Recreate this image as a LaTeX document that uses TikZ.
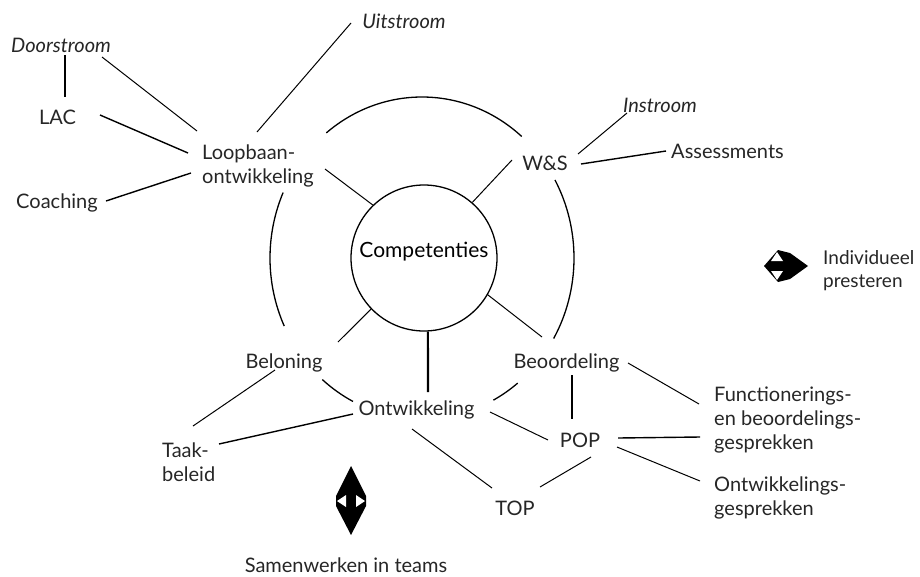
\documentclass[tikz,border=0pt]{standalone}
\usepackage{fontspec}
\setmainfont{Lato}
\begin{document}
\begin{tikzpicture}[x=1pt,y=-1pt,
  lbl/.style={font=\fontsize{20}{24}\selectfont, inner sep=0pt, text=black!85},
  ital/.style={lbl, font=\fontsize{20}{24}\selectfont\itshape, anchor=base},
  ml/.style={lbl, align=left, anchor=north west},
  sl/.style={lbl, anchor=base},
  thinline/.style={line width=1pt},
  medline/.style={line width=1.4pt},
  heavy/.style={line width=2.2pt},
  ringline/.style={line width=1.3pt}
]
\fill[white] (0,0) rectangle (920,576);
\useasboundingbox (0,0) rectangle (920,576);

% nodes
\node[ital] (door) at (61,52) {Doorstroom};
\node[ital] (uit) at (404,28) {Uitstroom};
\node[sl] (lac) at (57.5,124) {LAC};
\node[ml] (lb) at (202,145) {Loopbaan-\\ontwikkeling};
\node[sl] (coach) at (57,208) {Coaching};
\node[ital] (in) at (660,112) {Instroom};
\node[sl] (ass) at (727.5,158) {Assessments};
\node[sl] (ws) at (545,170) {W\&S};
\node[circle, draw, line width=1.3pt, minimum size=146pt, inner sep=0pt,
      font=\fontsize{21}{24}\selectfont, text height=15pt, text depth=17pt] (comp) at (424,258) {Competenties};
\node[sl] (bel) at (284,368) {Beloning};
\node[sl] (beo) at (566.5,368) {Beoordeling};
\node[sl] (ont) at (416.5,415) {Ontwikkeling};
\node[ml] (taak) at (162,443) {Taak-\\beleid};
\node[sl] (pop) at (580,447) {POP};
\node[sl] (top) at (515,515) {TOP};
\node[ml] (func) at (714,387) {Functionerings-\\en beoordelings-\\gesprekken};
\node[ml] (ontg) at (714,477) {Ontwikkelings-\\gesprekken};
\node[ml, font=\fontsize{19}{23}\selectfont] (ind) at (823,250) {Individueel\\presteren};
\node[sl] (sam) at (346,572) {Samenwerken in teams};

% ring around the centre
\coordinate (ring) at (422,258);
\draw[ringline] ([shift={(49:152pt and 161pt)}]ring) arc[start angle=49, end angle=129, x radius=152pt, y radius=161pt];
\draw[ringline] ([shift={(156:152pt and 161pt)}]ring) arc[start angle=156, end angle=205, x radius=152pt, y radius=161pt];
\draw[ringline] ([shift={(-30:152pt and 161pt)}]ring) arc[start angle=-30, end angle=29, x radius=152pt, y radius=161pt];
\draw[ringline] ([shift={(229:152pt and 161pt)}]ring) arc[start angle=229, end angle=243, x radius=152pt, y radius=161pt];
\draw[ringline] ([shift={(298:152pt and 161pt)}]ring) arc[start angle=298, end angle=309, x radius=152pt, y radius=161pt];

% connectors
\draw[heavy] ([shift={(4,3)}]door.base) -- ([shift={(7.5,-27)}]lac.base);
\draw[thinline] ([shift={(41,5)}]door.base) -- ([shift={(-5,-14)}]lb.north west);
\draw[medline] ([shift={(42.5,-9)}]lac.base) -- ([shift={(-14,8)}]lb.north west);
\draw[medline] ([shift={(49,-7)}]coach.base) -- ([shift={(-11,28)}]lb.north west);
\draw[thinline] ([shift={(-53,-5)}]uit.base) -- ([shift={(55,-13)}]lb.north west);
\draw[thinline] ([shift={(123,24)}]lb.north west) -- (comp.134);
\draw[thinline] ([shift={(-33,-10)}]ws.base) -- (comp.49);
\draw[thinline] ([shift={(33,-16)}]ws.base) -- ([shift={(-33,1)}]in.base);
\draw[medline] ([shift={(36,-6)}]ws.base) -- ([shift={(-61.5,-7)}]ass.base);
\draw[thinline] ([shift={(54,-26)}]bel.base) -- (comp.224);
\draw[thinline] ([shift={(-24.5,-31)}]beo.base) -- (comp.-30);
\draw[heavy] ([shift={(11.5,-23)}]ont.base) -- (comp.-87);
\draw[heavy] ([shift={(5.5,7)}]beo.base) -- ([shift={(-8,-28)}]pop.base);
\draw[thinline] ([shift={(61.5,-5)}]beo.base) -- ([shift={(-15,17)}]func.north west);
\draw[medline] ([shift={(38,-9)}]pop.base) -- ([shift={(-14,50)}]func.north west);
\draw[thinline] ([shift={(37,0)}]pop.base) -- ([shift={(-14,4)}]ontg.north west);
\draw[thinline] ([shift={(11,10)}]pop.base) -- ([shift={(25,-28)}]top.base);
\draw[thinline] ([shift={(73.5,-3)}]ont.base) -- ([shift={(-32,-7)}]pop.base);
\draw[thinline] ([shift={(-4.5,14)}]ont.base) -- ([shift={(-23,-27)}]top.base);
\draw[medline] ([shift={(-63.5,-1)}]ont.base) -- ([shift={(57,1)}]taak.north west);
\draw[thinline] ([shift={(-9,2)}]bel.base) -- ([shift={(31,-17)}]taak.north west);

% horizontal double arrow
\fill (764,266) -- (778,250) -- (790,253) -- (808,266) -- (790,279) -- (778,282) -- cycle;
\fill[white] (777,252) -- (783,261) -- (771,261) -- cycle;
\fill[white] (777,280) -- (783,271) -- (771,271) -- cycle;

% vertical double arrow
\fill (351,466) -- (366,496) -- (366,506) -- (351,535) -- (336,506) -- (336,496) -- cycle;
\fill[white] (337,501) -- (346,495) -- (346,507) -- cycle;
\fill[white] (365,501) -- (356,495) -- (356,507) -- cycle;
\end{tikzpicture}
\end{document}
